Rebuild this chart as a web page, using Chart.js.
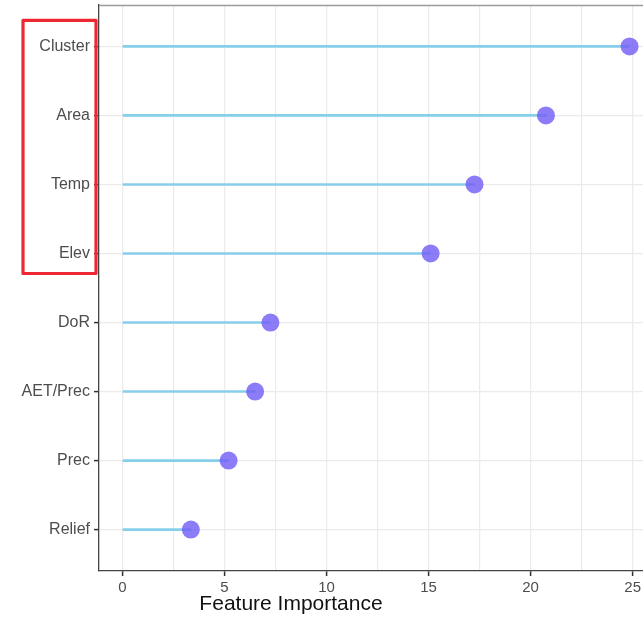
<!DOCTYPE html>
<html>
<head>
<meta charset="utf-8">
<script src="https://cdn.jsdelivr.net/npm/chart.js@4.4.1/dist/chart.umd.min.js"></script>
<style>
  html, body { margin: 0; padding: 0; background: #ffffff; overflow: hidden; width: 643px; height: 617px; }
  #wrap { position: relative; width: 700px; height: 617px; }
</style>
</head>
<body>
<div id="wrap"><canvas id="chart"></canvas></div>
<script>
// Feature importance, ranked from most to least important
const features = ["Cluster", "Area", "Temp", "Elev", "DoR", "AET/Prec", "Prec", "Relief"];
const importance = [24.85, 20.75, 17.25, 15.1, 7.25, 6.5, 5.2, 3.35];
const xTicks = [0, 5, 10, 15, 20, 25];
const xMinorTicks = [2.5, 7.5, 12.5, 17.5, 22.5];
const axisTitle = "Feature Importance";
// features outlined by the highlight box
const highlighted = ["Cluster", "Area", "Temp", "Elev"];

const points = features.map((f, i) => ({ x: importance[i], y: i }));

const FONT = "'Liberation Sans', Arial, sans-serif";
const GRID = "#ebebeb";

// Panel top border, x-axis title and the highlight box around the top labels
const decorations = {
  id: "decorations",
  afterDraw(chart) {
    const { ctx, chartArea, scales } = chart;
    ctx.save();
    // top border of the panel
    ctx.strokeStyle = "#9a9a9a";
    ctx.lineWidth = 1.5;
    ctx.beginPath();
    ctx.moveTo(chartArea.left, chartArea.top + 0.5);
    ctx.lineTo(chartArea.right, chartArea.top + 0.5);
    ctx.stroke();

    // x-axis title, centred under the left part of the axis
    ctx.fillStyle = "#111111";
    ctx.font = "21px " + FONT;
    ctx.textAlign = "center";
    ctx.textBaseline = "middle";
    ctx.fillText(axisTitle, 291, scales.x.bottom - 13);

    // highlight box
    const first = features.indexOf(highlighted[0]);
    const last = features.indexOf(highlighted[highlighted.length - 1]);
    const yTop = scales.y.getPixelForValue(first) - 26;
    const yBot = scales.y.getPixelForValue(last) + 20;
    ctx.strokeStyle = "#ee2833";
    ctx.lineWidth = 3.2;
    ctx.lineJoin = "round";
    ctx.strokeRect(23, yTop, 73, yBot - yTop);
    ctx.restore();
  }
};

new Chart(document.getElementById("chart"), {
  data: {
    datasets: [
      {
        type: "bar",
        label: "stem",
        data: points,
        indexAxis: "y",
        backgroundColor: "#87ceeb",
        borderWidth: 0,
        barThickness: 2,
        order: 2
      },
      {
        type: "line",
        label: "importance",
        data: points,
        indexAxis: "y",
        showLine: false,
        pointRadius: 9,
        pointHoverRadius: 9,
        pointBackgroundColor: "rgba(115, 95, 245, 0.82)",
        pointBorderWidth: 0,
        order: 1
      }
    ]
  },
  options: {
    responsive: true,
    maintainAspectRatio: false,
    animation: false,
    indexAxis: "y",
    layout: { autoPadding: false, padding: { top: 5, right: 20, bottom: 0, left: 0 } },
    plugins: {
      legend: { display: false },
      tooltip: { enabled: false }
    },
    scales: {
      x: {
        type: "linear",
        min: -1.15,
        max: 27.32,
        afterBuildTicks(scale) {
          scale.ticks = xTicks.concat(xMinorTicks).sort((a, b) => a - b).map(v => ({ value: v }));
        },
        afterFit(scale) {
          scale.height = 46;
        },
        grid: {
          color: GRID,
          lineWidth: 1.2,
          drawTicks: true,
          tickLength: 5,
          tickColor: ctx => (xTicks.includes(ctx.tick && ctx.tick.value) ? "#333333" : "rgba(0,0,0,0)"),
          tickWidth: 1.5
        },
        border: { display: true, color: "#444444", width: 1.3 },
        ticks: {
          autoSkip: false,
          maxRotation: 0,
          padding: 3,
          color: "#4d4d4d",
          font: { family: FONT, size: 15 },
          callback: v => (xTicks.includes(v) ? String(v) : "")
        }
      },
      y: {
        type: "linear",
        reverse: true,
        offset: false,
        min: -0.6,
        max: features.length - 1 + 0.6,
        afterBuildTicks(scale) {
          scale.ticks = features.map((f, i) => ({ value: i }));
        },
        afterFit(scale) {
          scale.width = 99;
          scale.paddingTop = 0;
          scale.paddingBottom = 0;
        },
        grid: {
          offset: false,
          color: GRID,
          lineWidth: 1.2,
          drawTicks: true,
          tickLength: 5,
          tickColor: "#333333",
          tickWidth: 1.5
        },
        border: { display: true, color: "#444444", width: 1.3 },
        ticks: {
          autoSkip: false,
          padding: 4,
          color: "#4d4d4d",
          font: { family: FONT, size: 16 },
          callback: v => features[v]
        }
      }
    }
  },
  plugins: [decorations]
});
</script>
</body>
</html>
